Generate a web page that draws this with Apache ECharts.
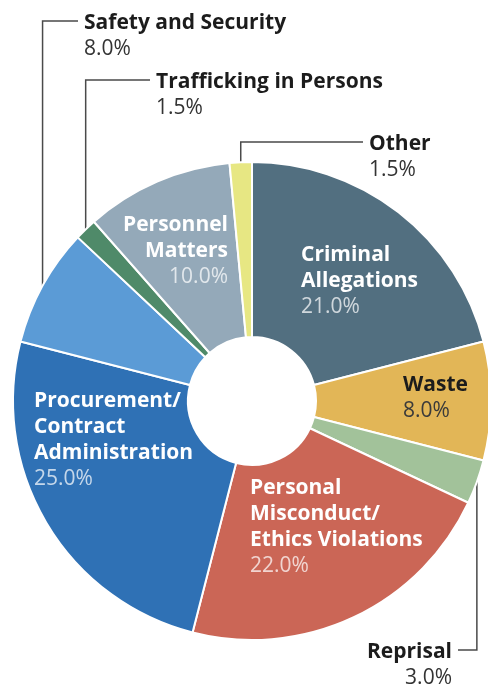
<!DOCTYPE html>
<html>
<head>
<meta charset="utf-8">
<script src="https://cdn.jsdelivr.net/npm/echarts@6/dist/echarts.min.js"></script>
<style>
  html, body { margin: 0; padding: 0; background: #ffffff; }
  #chart { width: 488px; height: 688px; }
</style>
</head>
<body>
<div id="chart"></div>
<script>
// ---- data ----
var categories = [
  'Criminal\nAllegations',
  'Waste',
  'Reprisal',
  'Personal\nMisconduct/\nEthics Violations',
  'Procurement/\nContract\nAdministration',
  'Safety and Security',
  'Trafficking in Persons',
  'Personnel\nMatters',
  'Other'
];
var values = [21.0, 8.0, 3.0, 22.0, 25.0, 8.0, 1.5, 10.0, 1.5];
var valueLabels = ['21.0%', '8.0%', '3.0%', '22.0%', '25.0%', '8.0%', '1.5%', '10.0%', '1.5%'];

// ---- styles (not data) ----
var colors = ['#526f80', '#e2b657', '#a2c29a', '#cb6656', '#2f71b5', '#5b9bd6', '#4f8a69', '#94a9b9', '#e7e783'];
var labelKind = ['in', 'dark', 'out', 'in', 'in', 'out', 'out', 'in', 'out'];
// label placement: x/y = anchor of label box (top), align
var labelPlace = [
  { x: 301, y: 242, align: 'left' },
  { x: 403, y: 372, align: 'left' },
  { x: 452, y: 639, align: 'right', line: true },
  { x: 250, y: 475, align: 'left' },
  { x: 34,  y: 388, align: 'left' },
  { x: 84,  y: 10,  align: 'left', line: true },
  { x: 156, y: 69,  align: 'left', line: true },
  { x: 228, y: 212, align: 'right' },
  { x: 369, y: 131, align: 'left', line: true }
];

var FONT = "'Open Sans', 'Noto Sans', sans-serif";
var FS = 21, LH = 26;

function richFor(kind, align) {
  var nameColor = kind === 'in' ? '#ffffff' : '#1c1c1c';
  var valColor = kind === 'in' ? 'rgba(255,255,255,0.72)' : (kind === 'dark' ? '#3a3a3a' : '#333333');
  return {
    n: { fontFamily: FONT, fontSize: FS, fontWeight: 'bold', color: nameColor, lineHeight: LH, align: align },
    v: { fontFamily: FONT, fontSize: FS, fontWeight: 'normal', color: valColor, lineHeight: LH, align: align }
  };
}

var seriesData = categories.map(function (name, i) {
  var lines = name.split('\n').map(function (s) { return '{n|' + s + '}'; });
  lines.push('{v|' + valueLabels[i] + '}');
  var isOut = labelKind[i] === 'out';
  return {
    name: name,
    value: values[i],
    itemStyle: { color: colors[i] },
    label: {
      show: true,
      position: isOut ? 'outside' : 'inside',
      formatter: lines.join('\n'),
      align: labelPlace[i].align,
      rich: richFor(labelKind[i], labelPlace[i].align)
    },
    labelLine: { show: isOut }
  };
});

var chart = echarts.init(document.getElementById('chart'), null, { renderer: 'canvas' });
chart.setOption({
  animation: false,
  backgroundColor: '#ffffff',
  series: [{
    type: 'pie',
    center: [252, 401],
    radius: [64, 239],
    startAngle: 90,
    clockwise: true,
    avoidLabelOverlap: false,
    itemStyle: { borderColor: '#ffffff', borderWidth: 2 },
    label: { show: true },
    labelLine: { show: false, length: 10, length2: 10, lineStyle: { color: '#4a4a4a', width: 1.5 } },
    labelLayout: function (params) {
      var p = labelPlace[params.dataIndex];
      if (!p) return {};
      var res = { x: p.x, y: p.y, align: p.align, verticalAlign: 'top' };
      if (p.line && params.labelLinePoints && params.labelLinePoints.length) {
        var p0 = params.labelLinePoints[0];
        var ly = p.y + 11;
        var ex = p.align === 'right' ? p.x + 6 : p.x - 6;
        res.labelLinePoints = [[p0[0], p0[1]], [p0[0], ly], [ex, ly]];
      }
      return res;
    },
    data: seriesData
  }]
});
</script>
</body>
</html>
